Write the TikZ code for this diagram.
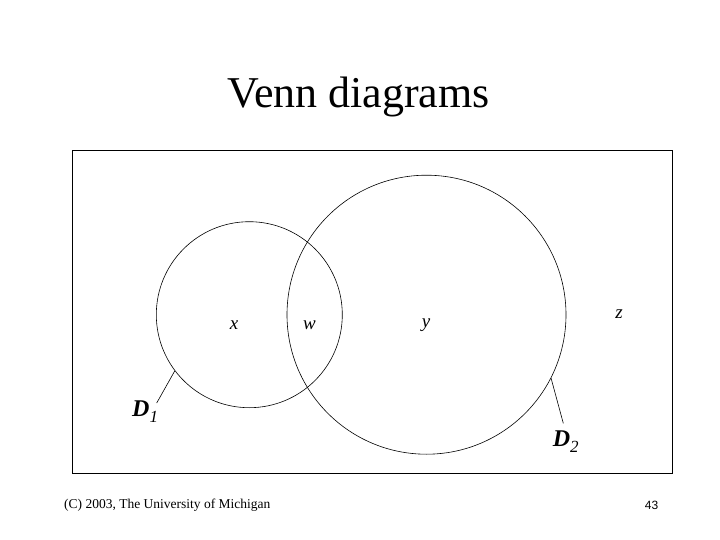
\documentclass[tikz,border=0pt]{standalone}
\usepackage{fontspec}
\setmainfont{Liberation Serif}
\newfontfamily\numfont{Liberation Sans}
\tikzset{
  frame/.style={draw=black, line width=1.2pt},
  venn/.style={draw=black, circle, line width=0.6pt, inner sep=0pt},
  setlabel/.style={anchor=base, font=\fontsize{19}{23}\selectfont\itshape, inner sep=0pt},
  dlabel/.style={anchor=base west, inner sep=0pt, font=\fontsize{24}{28}\selectfont},
  leader/.style={draw=black, line width=0.6pt}
}
\begin{document}
\begin{tikzpicture}[x=1pt,y=-1pt]
\useasboundingbox (0,0) rectangle (720,540);
\node[anchor=base, inner sep=0pt, font=\fontsize{44}{52}\selectfont] (title) at (358.5,108) {Venn diagrams};
\node[frame, minimum width=600pt, minimum height=323.4pt, inner sep=0pt] (U) at (372.3,312) {};
\node[venn, minimum size=186pt] (c1) at (249.3,314.7) {};
\node[venn, minimum size=279pt] (c2) at (426.5,314.7) {};
\node[setlabel] (lx) at (234,329) {x};
\node[setlabel] (lw) at (309.5,329) {w};
\node[setlabel] (ly) at (426,327.5) {y};
\node[setlabel] (lz) at (619,318.5) {z};
\node[dlabel] (d1) at (132,416.7) {\textbf{\textit{D}}\raisebox{-6pt}{\fontsize{17}{20}\selectfont\textit{1}}};
\node[dlabel] (d2) at (552.7,446.7) {\textbf{\textit{D}}\raisebox{-6pt}{\fontsize{17}{20}\selectfont\textit{2}}};
\coordinate (e1) at (156.7,403);
\coordinate (e2) at (563.3,423.3);
\draw[leader] (c1.217) -- (e1);
\draw[leader] (c2.333.2) -- (e2);
\node[anchor=base west, inner sep=0pt, font=\fontsize{13.5}{16}\selectfont] (foot) at (64,508.3) {(C) 2003, The University of Michigan};
\node[anchor=base, inner sep=0pt, font=\numfont\fontsize{12}{14}\selectfont] (page) at (651.5,509) {43};
\end{tikzpicture}
\end{document}
